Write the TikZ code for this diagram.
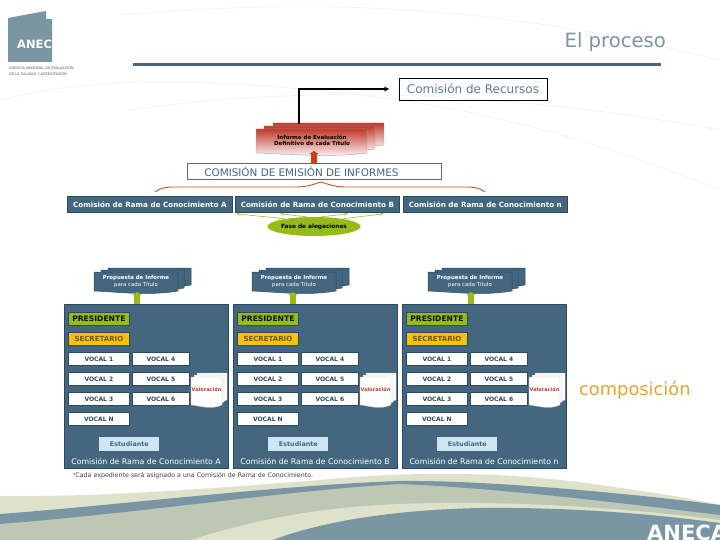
\documentclass[tikz,border=0pt]{standalone}
\usepackage{fontspec}
\setmainfont{DejaVu Sans}
\usetikzlibrary{shapes.geometric,arrows.meta,calc}
\definecolor{panelblue}{HTML}{44667F}
\definecolor{paneledge}{HTML}{2C4A5E}
\definecolor{slate}{HTML}{7A95A3}
\definecolor{cream}{HTML}{DFE2CB}
\definecolor{sage}{HTML}{BDC7B3}
\definecolor{leaf}{HTML}{94BB16}
\definecolor{gold}{HTML}{F5C20C}
\definecolor{pale}{HTML}{CFE6F5}
\definecolor{brick}{HTML}{C0392B}
\definecolor{ember}{HTML}{CC3F16}
\definecolor{faint}{HTML}{F1F4F5}
\definecolor{amber}{HTML}{E3A52C}
\newcommand{\fsz}[1]{\fontsize{#1}{#1}\selectfont}
% wavy-bottom page: x, y, w, h, options
\newcommand{\wavepage}[5]{\path[#5] (#1,#2) -- ++(#3,0) -- ++(0,#4)
  .. controls +(-0.35*#3,5) and +(0.3*#3,1) .. ++(-#3,0) -- cycle;}
\tikzset{
  box/.style={draw=paneledge,line width=.8pt,anchor=north west,inner sep=0pt,align=center},
  vocal/.style={box,fill=white,minimum height=13pt,text=paneledge,font=\bfseries\fsz{6}},
  bar/.style={box,fill=panelblue,minimum width=164pt,minimum height=16pt,text=white,font=\bfseries\fsz{7.2}},
  dkpage/.style={fill=panelblue,draw=paneledge,line width=.5pt},
  redpage/.style={top color=brick,bottom color=white,draw=gray!70,line width=.4pt},
  whpage/.style={fill=white,draw=gray!60,line width=.3pt},
  green up/.style={draw=leaf,line width=6pt,-{Triangle[length=3pt,width=9pt]}},
  thin green/.style={draw=leaf!80!white,line width=.7pt,-{Stealth[length=4pt,width=3pt]}},
  free/.style={inner sep=0pt,align=center}
}
\newcommand{\commpanel}[5]{% prefix, panel x, stack offset, arrow offset, label
\begin{scope}[xshift=#2pt]
  \node[box,fill=panelblue,minimum width=164pt,minimum height=164pt] (#1panel) at (0,304) {};
  \wavepage{#3+14}{268}{83}{17}{dkpage}
  \wavepage{#3+7}{270}{83}{18}{dkpage}
  \wavepage{#3}{272}{84}{19}{dkpage}
  \node[free,text=white,minimum width=84pt,minimum height=19pt,font=\fsz{5.4}] (#1prop) at (#3+42,281.5)
    {\textbf{Propuesta de Informe}\\[1.5pt]para cada Título};
  \coordinate (#1foot) at (#4,304);
  \coordinate (#1head) at (#4,292);
  \draw[green up] (#1foot) -- (#1head);
  \node[box,fill=leaf,minimum width=61pt,minimum height=13pt,text=black!80!paneledge,font=\bfseries\fsz{7.6}] (#1pres) at (4,312) {PRESIDENTE};
  \node[box,fill=gold,minimum width=61pt,minimum height=13pt,text=black!55!gold,font=\bfseries\fsz{7}] (#1sec) at (4,332) {SECRETARIO};
  \node[vocal,minimum width=61pt] (#1v1) at (4,352) {VOCAL 1};
  \node[vocal,minimum width=61pt] (#1v2) at (4,372) {VOCAL 2};
  \node[vocal,minimum width=61pt] (#1v3) at (4,392) {VOCAL 3};
  \node[vocal,minimum width=61pt] (#1vn) at (4,412) {VOCAL N};
  \node[vocal,minimum width=57pt] (#1v4) at (68,352) {VOCAL 4};
  \node[vocal,minimum width=57pt] (#1v5) at (68,372) {VOCAL 5};
  \node[vocal,minimum width=57pt] (#1v6) at (68,392) {VOCAL 6};
  \wavepage{133}{373}{30}{27}{whpage}
  \wavepage{130}{375}{30}{27}{whpage}
  \wavepage{127}{377}{31}{28}{whpage}
  \node[free,text=brick,font=\bfseries\fsz{5}] (#1val) at (142.5,389.5) {Valoración};
  \node[box,draw=none,fill=pale,minimum width=60pt,minimum height=14pt,text=panelblue,font=\bfseries\fsz{6.4}] (#1est) at (35,437) {Estudiante};
  \node[free,text=white,font=\fsz{7.8}] (#1lab) at (82,461) {#5};
\end{scope}}
\begin{document}
\begin{tikzpicture}[x=1pt,y=-1pt]
\useasboundingbox (0,0) rectangle (720,540);
\fill[white] (0,0) rectangle (720,540);
% faint background swooshes
\draw[faint,line width=.8pt] (0,100) .. controls (80,80) and (180,72) .. (400,100) .. controls (520,118) and (620,150) .. (720,190);
\draw[faint,line width=.8pt] (120,15) .. controls (300,0) and (480,0) .. (720,60);
\draw[faint,line width=.8pt] (130,110) .. controls (300,85) and (500,90) .. (720,130);
% bottom bands
\fill[cream] (0,496) .. controls (100,497) and (190,490) .. (320,480) .. controls (400,472) and (500,470) .. (600,485) .. controls (650,492) and (690,498) .. (720,505) -- (720,540) -- (0,540) -- cycle;
\fill[sage] (0,524) .. controls (150,510) and (290,490) .. (400,483) .. controls (500,482) and (620,500) .. (720,515) -- (720,540) -- (0,540) -- cycle;
\fill[slate] (0,514) .. controls (120,505) and (280,485) .. (400,481) .. controls (480,480) and (620,492) .. (720,505) -- (720,515) .. controls (620,503) and (500,488) .. (400,484) .. controls (290,490) and (150,512) .. (0,524) -- cycle;
\fill[cream] (190,540) .. controls (240,525) and (300,508) .. (400,504) .. controls (500,500) and (620,507) .. (720,520) -- (720,540) -- cycle;
\fill[slate] (273,540) .. controls (320,522) and (390,510) .. (480,508) .. controls (580,507) and (660,515) .. (720,523) -- (720,540) -- cycle;
\begin{scope}
  \clip (600,500) rectangle (720,540);
  \node[free,anchor=west,text=white,font=\bfseries\fsz{21}] (brandb) at (647,533) {ANECA};
\end{scope}
% logo
\fill[slate] (8,18) -- (46,11) -- (46,19) -- (52,19) -- (52,62) -- (8,62) -- cycle;
\begin{scope}
  \clip (0,0) rectangle (52,70);
  \node[free,anchor=west,text=white,font=\bfseries\fsz{11.5}] (brandt) at (17,44.5) {ANECA};
\end{scope}
\node[free,anchor=west,text=black!65,align=left,font=\fontsize{3.5}{6}\selectfont] (agency) at (9,71) {AGENCIA NACIONAL DE EVALUACIÓN\\DE LA CALIDAD Y ACREDITACIÓN};
% title
\node[free,anchor=east,text=slate,font=\fsz{19.6}] (title) at (666,42) {El proceso};
\coordinate (ruleL) at (133,65); \coordinate (ruleR) at (661,65);
\draw[panelblue,line width=3pt] (ruleL) -- (ruleR);
\node[draw=black,line width=.8pt,minimum width=148pt,minimum height=22pt,inner sep=0pt,text=panelblue!85!white,font=\fsz{12}] (recursos) at (473,89) {Comisión de Recursos};
% report stack
\wavepage{273}{123}{111}{22}{redpage}
\wavepage{264}{126}{111}{23}{redpage}
\wavepage{256}{129}{111}{24}{redpage}
\node[free,minimum width=111pt,minimum height=24pt,text=black,font=\bfseries\fsz{5.5}] (informe) at (312,140.5) {Informe de Evaluación\\[1pt]Definitivo de cada Título};
\coordinate (repTop) at (299,124);
\coordinate (recTail) at (389,89);
\draw[black,line width=2pt,-{Stealth[length=5pt,width=5pt]}] (repTop) |- (recursos.west -| recTail);
% emission
\node[box,fill=white,draw=gray!80!black,minimum width=254pt,minimum height=16pt,text=panelblue,font=\fsz{10.4}] (emision) at (187,163) {\hspace*{-26pt}COMISIÓN DE EMISIÓN DE INFORMES};
\coordinate (emiFoot) at (314,164); \coordinate (repFoot) at (314,151);
\draw[ember,line width=6pt,-{Triangle[length=3pt,width=9pt]}] (emiFoot) -- (repFoot);
% brace
\coordinate (bA) at (155,192); \coordinate (bB) at (321,182); \coordinate (bC) at (485,192);
\draw[ember!70!brown,line width=.9pt] (bA) .. controls (160,188) and (165,187) .. (175,187) -- (296,187) .. controls (308,187) and (314,184) .. (bB) .. controls (328,184) and (334,187) .. (346,187) -- (465,187) .. controls (475,187) and (480,188) .. (bC);
% top bars
\node[bar,minimum width=165pt] (barA) at (67,196) {Comisión de Rama de Conocimiento A};
\node[bar] (barB) at (235,196) {Comisión de Rama de Conocimiento B};
\node[bar] (barN) at (403,196) {Comisión de Rama de Conocimiento n};
\node[ellipse,fill=leaf,minimum width=92pt,minimum height=19pt,inner sep=0pt,text=black,font=\bfseries\fsz{5.8}] (aleg) at (314,226.5) {Fase de alegaciones};
\draw[thin green] (aleg.165) -- ($(barB.south west)+(1,1)$);
\draw[thin green] (aleg.125) -- ($(barB.south west)+(45,1)$);
\draw[thin green] (aleg.55) -- ($(barB.south west)+(113,1)$);
\draw[thin green] (aleg.15) -- ($(barB.south west)+(149,1)$);
% panels
\commpanel{a}{64}{30}{73}{Comisión de Rama de Conocimiento A}
\commpanel{b}{233}{19}{60}{Comisión de Rama de Conocimiento B}
\commpanel{c}{402}{26}{69}{Comisión de Rama de Conocimiento n}
% footer note
\node[free,anchor=west,text=black!75,font=\fsz{6.3}] (nota) at (73,476) {\raisebox{1.5pt}{\fsz{4.5}*}Cada expediente será asignado a una Comisión de Rama de Conocimiento.};
\node[free,anchor=west,text=amber,font=\fsz{17.8}] (compo) at (579,390) {composición};
\end{tikzpicture}
\end{document}
